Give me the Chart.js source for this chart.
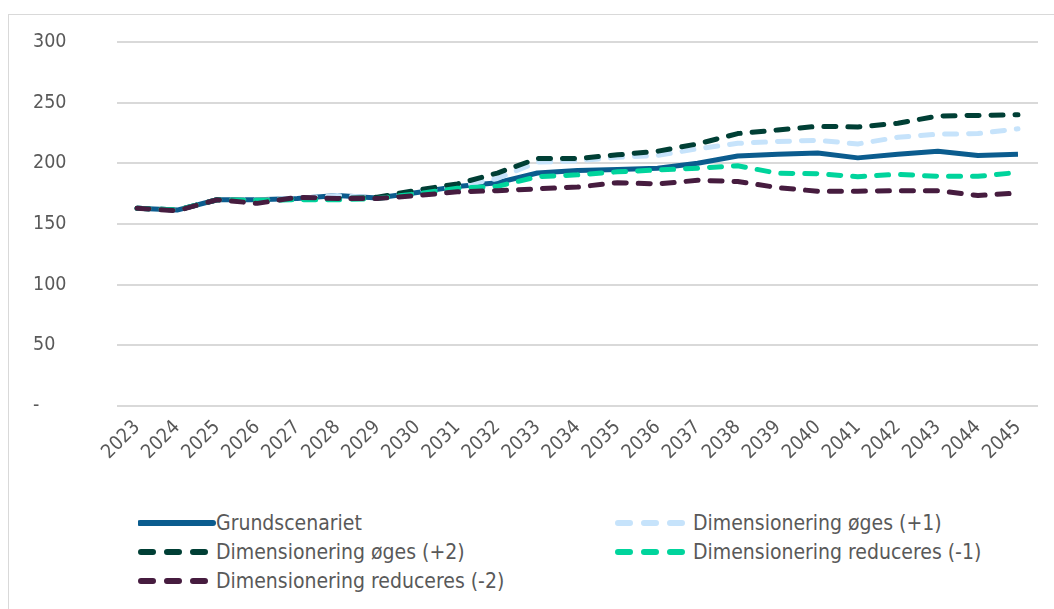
<!DOCTYPE html>
<html>
<head>
<meta charset="utf-8">
<script src="https://cdn.jsdelivr.net/npm/chart.js@4"></script>
<style>
body { margin: 0; background: #fff; overflow: hidden; font-family: "DejaVu Sans Condensed", "DejaVu Sans", sans-serif; }
#frame { position: absolute; left: 8px; top: 14px; width: 1100px; height: 700px; border: 1px solid #d9d9d9; }
#wrap { position: absolute; left: 0; top: 0; width: 1054px; height: 470px; }
#legend { position: absolute; left: 138px; top: 508px; display: grid; grid-template-columns: 477px auto; }
.item { display: flex; align-items: center; height: 29px; color: #595959; font-size: 21px; }
</style>
</head>
<body>
<div id="frame"></div>
<div id="wrap"><canvas id="lineChart" width="1054" height="470"></canvas></div>
<div id="legend"></div>
<script>
const years = ['2023','2024','2025','2026','2027','2028','2029','2030','2031','2032','2033','2034','2035','2036','2037','2038','2039','2040','2041','2042','2043','2044','2045'];
const grund  = [163, 161.5, 170, 170, 171, 173.5, 171.5, 176, 181, 184, 192, 194, 195, 196, 200, 206, 207.5, 208.5, 204.5, 207.5, 210, 206.5, 207.5];
const plus1  = [163, 161.5, 170, 170, 171, 173.5, 171.5, 177, 181, 187.5, 201, 202, 205, 206.5, 212, 216.5, 218, 219, 216, 221.5, 224, 224.5, 228.5];
const plus2  = [163, 161.5, 170, 169.5, 170.5, 171, 172, 178, 183, 192, 204, 204, 207, 210, 216, 224.5, 227.5, 230.5, 230, 233, 239, 239.5, 240];
const minus1 = [163, 161.5, 170, 169.5, 170, 170, 171, 175, 179.5, 181, 189, 190.5, 193, 194.5, 196, 198, 191.8, 191.5, 189, 191, 189.3, 189.3, 192.5];
const minus2 = [163, 161, 170, 167, 172, 171, 171, 173.5, 176.5, 177.5, 179, 180.5, 184, 183, 186, 185, 180, 177, 177, 177.5, 177.5, 173.5, 175.5];
const yTicks = [0, 50, 100, 150, 200, 250, 300];

const dash = [12, 12];
function series(label, data, color, dashed, order) {
    return {
        label: label,
        data: data,
        borderColor: color,
        backgroundColor: color,
        borderWidth: 5,
        borderDash: dashed ? dash : [],
        borderCapStyle: dashed ? 'round' : 'butt',
        borderJoinStyle: 'round',
        pointRadius: 0,
        tension: 0,
        order: order
    };
}

const datasets = [
    series('Grundscenariet', grund, '#0b5c8e', false, 5),
    series('Dimensionering øges (+1)', plus1, '#c6e3fb', true, 4),
    series('Dimensionering øges (+2)', plus2, '#003f35', true, 3),
    series('Dimensionering reduceres (-1)', minus1, '#00d49c', true, 2),
    series('Dimensionering reduceres (-2)', minus2, '#461c3f', true, 1)
];

const font = { family: '"DejaVu Sans Condensed", "DejaVu Sans", sans-serif', size: 19.5 };

const ctx = document.getElementById('lineChart').getContext('2d');
new Chart(ctx, {
    type: 'line',
    data: { labels: years, datasets: datasets },
    options: {
        responsive: false,
        animation: false,
        layout: { padding: { left: 33, right: 16, top: 42, bottom: 0 } },
        plugins: {
            legend: { display: false },
            tooltip: { enabled: false }
        },
        scales: {
            x: {
                offset: true,
                grid: { display: false, drawTicks: false },
                border: { display: false },
                ticks: { color: '#595959', font: font, minRotation: 45, maxRotation: 45, autoSkip: false, padding: 10 },
                afterFit: function(scale) { scale.height = 64; }
            },
            y: {
                min: 0,
                max: 300,
                afterBuildTicks: function(scale) { scale.ticks = yTicks.map(v => ({ value: v })); },
                grid: { color: '#d9d9d9', lineWidth: 2, drawTicks: false },
                border: { display: false },
                ticks: {
                    color: '#595959',
                    font: font,
                    crossAlign: 'far',
                    callback: v => v === 0 ? '-' : v
                },
                afterFit: function(scale) { scale.width = 84; }
            }
        }
    }
});

// legend in two columns, as in the original
const legend = document.getElementById('legend');
datasets.forEach(ds => {
    const item = document.createElement('div');
    item.className = 'item';
    const dashAttr = ds.borderDash.length ? ' stroke-dasharray="12 14" stroke-linecap="round"' : ' stroke-linecap="round"';
    const x1 = ds.borderDash.length ? 3 : 2;
    const x2 = ds.borderDash.length ? 70 : 75;
    item.innerHTML = '<svg width="78" height="10"><line x1="' + x1 + '" y1="5" x2="' + x2 + '" y2="5" stroke="' + ds.borderColor +
        '" stroke-width="6"' + dashAttr + '/></svg><span>' + ds.label + '</span>';
    legend.appendChild(item);
});
</script>
</body>
</html>
